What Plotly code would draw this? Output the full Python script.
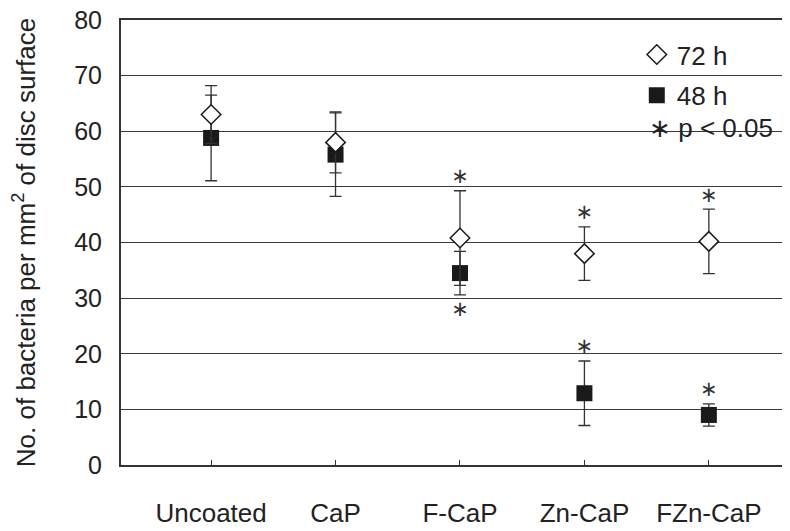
import plotly.graph_objects as go

categories = ["Uncoated", "CaP", "F-CaP", "Zn-CaP", "FZn-CaP"]
mean_72h = [63.0, 58.0, 40.8, 38.0, 40.2]
err_72h = [5.2, 5.5, 8.5, 4.8, 5.8]
mean_48h = [58.8, 55.8, 34.5, 12.9, 9.0]
err_48h = [7.7, 7.5, 3.9, 5.8, 2.0]
sig_72h = [False, False, True, True, True]
sig_48h_above = [False, False, False, True, True]
sig_48h_below = [False, False, True, False, False]
yticks = [0, 10, 20, 30, 40, 50, 60, 70, 80]

FONT = "Liberation Sans, Arial, Helvetica, sans-serif"
DARK = "#222222"
FS = 26

fig = go.Figure()

fig.add_trace(go.Scatter(
    x=categories, y=mean_48h, mode="markers", name="48 h", legendrank=2, legendgroup="g48",
    marker=dict(symbol="square", size=16, color="#1a1a1a", line=dict(width=0)),
    error_y=dict(type="data", array=err_48h, color="#333333", thickness=1.3, width=6),
))
fig.add_trace(go.Scatter(
    x=categories, y=mean_72h, mode="markers", name="72 h", legendrank=1, legendgroup="g72",
    marker=dict(symbol="diamond", size=15, color="white", line=dict(width=1.5, color="#1a1a1a")),
    error_y=dict(type="data", array=err_72h, color="#333333", thickness=1.3, width=6),
))

# significance stars
sx, sy = [], []
for c, m, e, s in zip(categories, mean_72h, err_72h, sig_72h):
    if s:
        sx.append(c); sy.append(m + e + 2.3)
for c, m, e, a, b in zip(categories, mean_48h, err_48h, sig_48h_above, sig_48h_below):
    if b:
        sx.append(c); sy.append(m - e - 2.8)
    elif a:
        sx.append(c); sy.append(m + e + 2.3)
fig.add_trace(go.Scatter(
    x=sx, y=sy, mode="text", text=["∗"] * len(sx), showlegend=False,
    textfont=dict(family="DejaVu Sans", size=21, color="#333333"),
    textposition="middle center",
))

fig.add_shape(type="rect", xref="paper", yref="paper", x0=0.765, x1=0.9925, y0=0.71, y1=0.975,
              fillcolor="white", line=dict(width=0), layer="between")

fig.add_annotation(text="∗ p < 0.05", xref="x domain", yref="y domain", x=0.786, y=0.757,
                   xanchor="left", yanchor="middle", showarrow=False,
                   font=dict(family=FONT, size=FS, color=DARK))

fig.update_layout(
    width=782, height=523,
    margin=dict(l=113, r=0, t=12, b=66),
    plot_bgcolor="white", paper_bgcolor="white",
    font=dict(family=FONT, size=FS, color=DARK),
    showlegend=True,
    legend=dict(x=0.771, y=0.975, xanchor="left", yanchor="top", bgcolor="rgba(0,0,0,0)",
                tracegroupgap=4, font=dict(size=FS, color=DARK)),
    xaxis=dict(
        type="category", categoryorder="array", categoryarray=categories,
        range=[-0.724, 4.652], automargin=False,
        showline=True, linecolor="#333333", linewidth=2, mirror=True,
        ticks="inside", ticklen=5, tickcolor="#333333", tickwidth=1,
        showgrid=False, ticklabelstandoff=24,
        tickfont=dict(size=FS, color=DARK),
    ),
    yaxis=dict(
        range=[0, 80], tickvals=yticks, showgrid=True, gridcolor="#3a3a3a", gridwidth=1.3,
        showline=True, linecolor="#333333", linewidth=2, zeroline=False, automargin=False,
        ticks="", ticklabelstandoff=12, ticklabeloverflow="allow",
        tickfont=dict(size=25, color=DARK),
        title=dict(text="No. of bacteria per mm<sup>2</sup> of disc surface",
                   font=dict(size=26, color=DARK), standoff=32),
    ),
)

fig.write_html("out.html")
